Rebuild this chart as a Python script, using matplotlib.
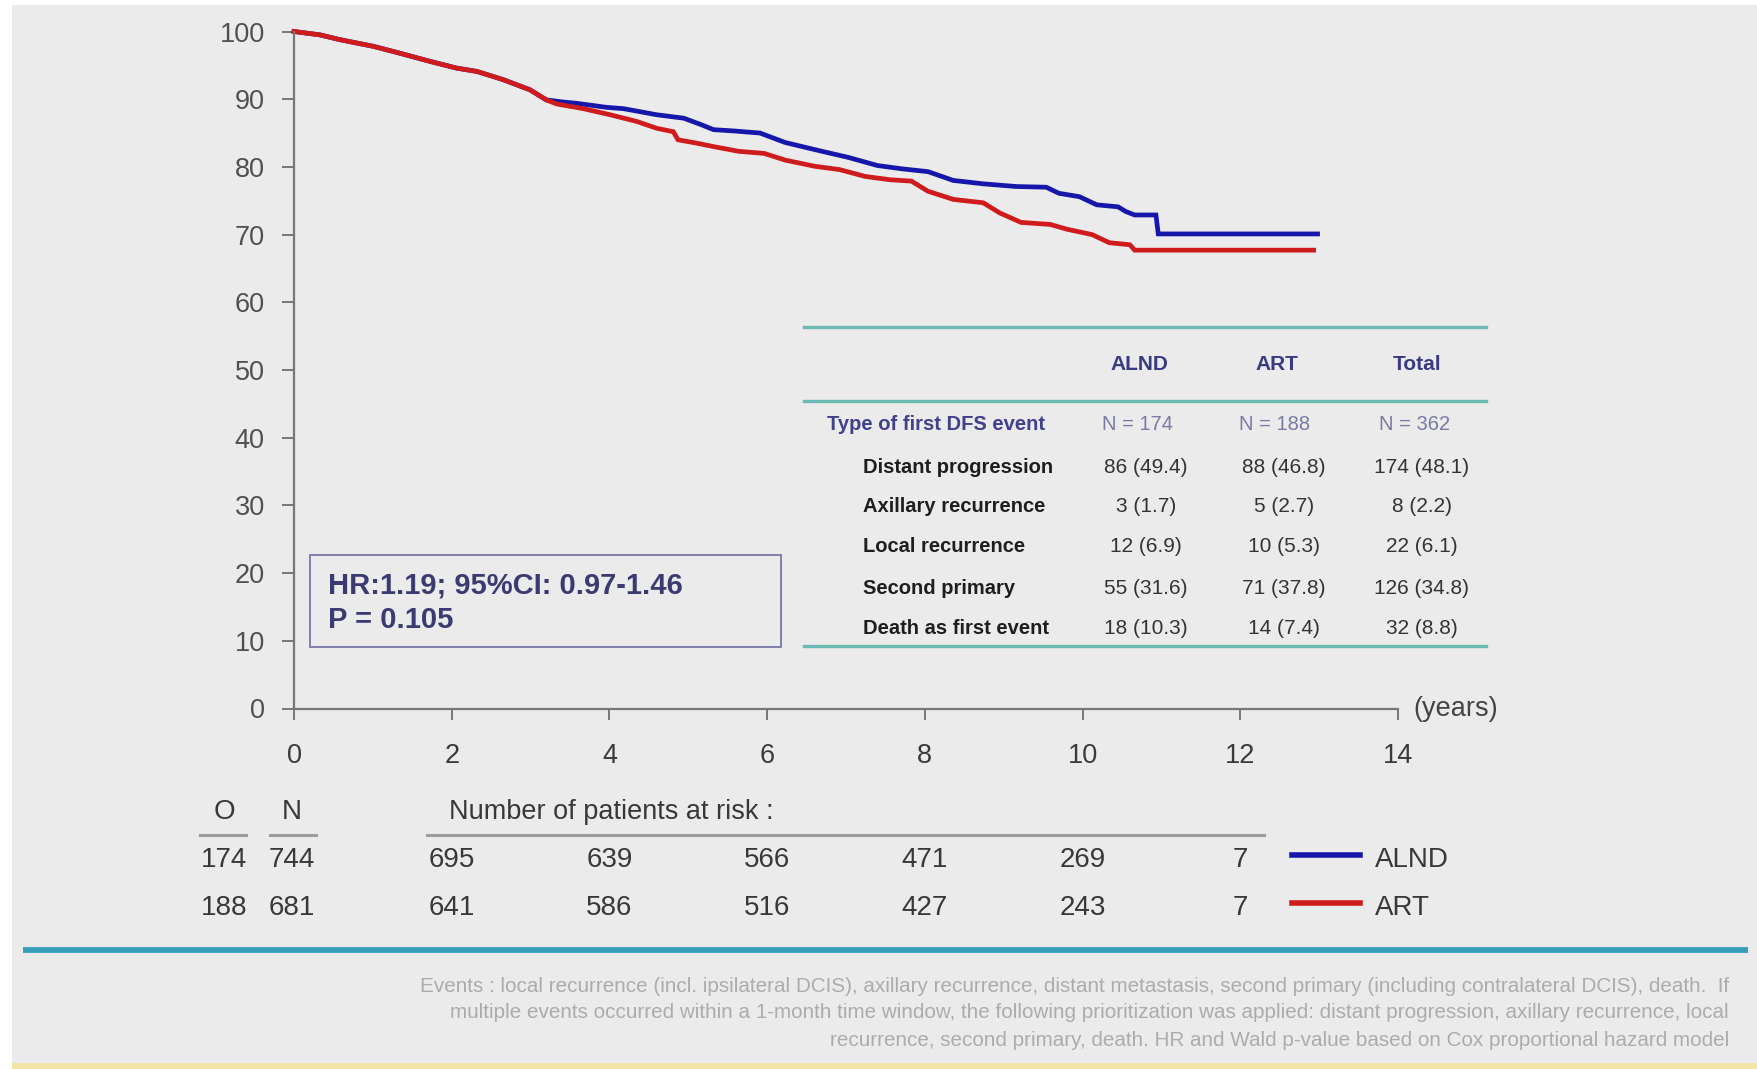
import matplotlib
matplotlib.use("Agg")
import matplotlib.pyplot as plt
import matplotlib.transforms as mtransforms
from matplotlib.lines import Line2D
from matplotlib.patches import Rectangle

# ---------------- data ----------------
alnd_t = [0, 0.33, 0.58, 1.01, 1.34, 1.72, 2.06, 2.32, 2.65, 2.99, 3.20, 3.40, 3.58, 3.96,
          4.18, 4.60, 4.94, 5.15, 5.32, 5.59, 5.91, 6.23, 6.66, 7.03, 7.40, 7.72, 8.04,
          8.36, 8.74, 9.16, 9.54, 9.70, 9.96, 10.18, 10.45, 10.55, 10.66, 10.93, 10.96, 12.98]
alnd_s = [100, 99.5, 98.8, 97.8, 96.8, 95.6, 94.6, 94.1, 92.9, 91.4, 89.9, 89.6, 89.4, 88.8,
          88.6, 87.7, 87.2, 86.3, 85.5, 85.3, 85.0, 83.6, 82.4, 81.4, 80.2, 79.7, 79.3,
          78.0, 77.5, 77.1, 77.0, 76.1, 75.6, 74.4, 74.1, 73.4, 72.9, 72.9, 70.1, 70.1]

art_t = [0, 0.33, 0.58, 1.01, 1.34, 1.72, 2.06, 2.32, 2.65, 2.99, 3.20, 3.33, 3.67, 4.01,
         4.35, 4.60, 4.81, 4.87, 5.11, 5.32, 5.64, 5.96, 6.23, 6.60, 6.92, 7.24, 7.56,
         7.83, 8.04, 8.36, 8.74, 8.95, 9.22, 9.59, 9.80, 10.12, 10.34, 10.60, 10.66, 12.93]
art_s = [100, 99.5, 98.8, 97.8, 96.8, 95.6, 94.6, 94.1, 92.9, 91.4, 89.9, 89.3, 88.6, 87.7,
         86.7, 85.7, 85.2, 84.0, 83.5, 83.0, 82.3, 82.0, 81.0, 80.1, 79.6, 78.6, 78.1,
         77.9, 76.4, 75.2, 74.7, 73.2, 71.8, 71.5, 70.8, 70.0, 68.8, 68.5, 67.7, 67.7]

groups = ["ALND", "ART"]
observed = [174, 188]
numbers = [744, 681]
risk_times = [2, 4, 6, 8, 10, 12]
risk_alnd = [695, 639, 566, 471, 269, 7]
risk_art = [641, 586, 516, 427, 243, 7]

table_cols = ["ALND", "ART", "Total"]
table_n = ["N = 174", "N = 188", "N = 362"]
event_types = ["Distant progression", "Axillary recurrence", "Local recurrence",
               "Second primary", "Death as first event"]
alnd_events = ["86 (49.4)", "3 (1.7)", "12 (6.9)", "55 (31.6)", "18 (10.3)"]
art_events = ["88 (46.8)", "5 (2.7)", "10 (5.3)", "71 (37.8)", "14 (7.4)"]
total_events = ["174 (48.1)", "8 (2.2)", "22 (6.1)", "126 (34.8)", "32 (8.8)"]

hr_text = ["HR:1.19; 95%CI: 0.97-1.46", "P = 0.105"]
footnote = [
    "Events : local recurrence (incl. ipsilateral DCIS), axillary recurrence, distant metastasis, second primary (including contralateral DCIS), death.  If",
    "multiple events occurred within a 1-month time window, the following prioritization was applied: distant progression, axillary recurrence, local",
    "recurrence, second primary, death. HR and Wald p-value based on Cox proportional hazard model",
]

# ---------------- style ----------------
W, H, DPI = 1757, 1069, 100
BG = "#ebebeb"
BLUE = "#1616aa"
RED = "#cf1b1b"
NAVY = "#3a3a82"
TEAL = "#6cbab4"
plt.rcParams["font.family"] = ["Liberation Sans", "DejaVu Sans"]
RISK_FS = 20


def fx(px):
    return px / W


def fy(py):
    return 1 - py / H


fig = plt.figure(figsize=(W / DPI, H / DPI), dpi=DPI, facecolor=BG)

# border strips
fig.patches.append(Rectangle((0, fy(5)), 1, 5 / H, transform=fig.transFigure,
                             facecolor="white", edgecolor="none", zorder=0))
fig.patches.append(Rectangle((0, 0), 12 / W, 1, transform=fig.transFigure,
                             facecolor="white", edgecolor="none", zorder=0))
fig.patches.append(Rectangle((12 / W, 0), 1, 6 / H, transform=fig.transFigure,
                             facecolor="#f2e3a6", edgecolor="none", zorder=0))

# ---------------- KM axes ----------------
ax = fig.add_axes([fx(294), fy(708.5), 1104 / W, 677 / H])
ax.patch.set_visible(False)
ax.plot(alnd_t, alnd_s, color=BLUE, lw=3.4, clip_on=False, solid_joinstyle="miter")
ax.plot(art_t, art_s, color=RED, lw=3.4, clip_on=False, solid_joinstyle="miter")
ax.set_xlim(0, 14)
ax.set_ylim(0, 100)
ax.set_xticks(range(0, 15, 2))
ax.set_yticks(range(0, 101, 10))
for s in ["top", "right"]:
    ax.spines[s].set_visible(False)
for s in ["left", "bottom"]:
    ax.spines[s].set_color("#777777")
    ax.spines[s].set_linewidth(1.6)
ax.tick_params(axis="y", direction="out", length=9, width=1.4, color="#777777",
               pad=12, labelsize=19.5, labelcolor="#505050")
ax.tick_params(axis="x", direction="out", length=8, width=1.4, color="#777777",
               pad=17, labelsize=19.5, labelcolor="#3a3a3a")
ax.text(14.2, 0, "(years)", va="center", ha="left", fontsize=19.5, color="#444444")

# HR box
fig.patches.append(Rectangle((fx(310), fy(647)), (781 - 310) / W, (647 - 555) / H,
                             transform=fig.transFigure, fill=False,
                             edgecolor="#8080ac", lw=1.4))
fig.text(fx(328), fy(585), hr_text[0], fontsize=21, fontweight="bold", color="#3b3b72",
         va="center", ha="left")
fig.text(fx(328), fy(620), hr_text[1], fontsize=21, fontweight="bold", color="#3b3b72",
         va="center", ha="left")

# ---------------- event table ----------------
for yy in [327, 401, 646]:
    fig.add_artist(Line2D([fx(804), fx(1486)], [fy(yy), fy(yy)], color=TEAL, lw=2.4,
                          transform=fig.transFigure))
col_x = [1139, 1277, 1417]
val_x = [1146, 1284, 1422]
for cx, name in zip(col_x, table_cols):
    fig.text(fx(cx), fy(365), name, fontsize=15, fontweight="bold", color=NAVY,
             ha="center", va="center")
fig.text(fx(827), fy(425), "Type of first DFS event", fontsize=14.5, fontweight="bold",
         color="#40408c", ha="left", va="center")
for cx, nn in zip(col_x, table_n):
    fig.text(fx(cx - 2), fy(425), nn, fontsize=14.5, color="#7a7aa2",
             ha="center", va="center")
row_y = [468, 507, 547, 588, 628]
for ry, lab, a, b, c in zip(row_y, event_types, alnd_events, art_events, total_events):
    fig.text(fx(863), fy(ry), lab, fontsize=14.5, fontweight="bold", color="#1e1e1e",
             ha="left", va="center")
    for vx, v in zip(val_x, [a, b, c]):
        fig.text(fx(vx), fy(ry), v, fontsize=15, color="#333333", ha="center",
                 va="center")

# ---------------- risk table ----------------
blend = mtransforms.blended_transform_factory(ax.transData, fig.transFigure)
RISK_C = "#383838"
UL = "#9c9c9c"
fig.text(fx(224), fy(812), "O", fontsize=RISK_FS, color=RISK_C, ha="center", va="center")
fig.text(fx(292), fy(812), "N", fontsize=RISK_FS, color=RISK_C, ha="center", va="center")
ax.text(1.97, fy(812), "Number of patients at risk :", fontsize=RISK_FS - 0.5, color=RISK_C,
        ha="left", va="center", transform=blend)
for x0, x1 in [(200, 246), (270, 316)]:
    fig.add_artist(Line2D([fx(x0), fx(x1)], [fy(835), fy(835)], color=UL, lw=2.2,
                          transform=fig.transFigure))
fig.add_artist(Line2D([fx(427), fx(1264)], [fy(835), fy(835)], color=UL, lw=2.2,
                      transform=fig.transFigure))

row_ys = [860, 908]
line_cols = [BLUE, RED]
for gi, (g, o, n, risks) in enumerate(zip(groups, observed, numbers, [risk_alnd, risk_art])):
    yy = fy(row_ys[gi])
    fig.text(fx(224), yy, str(o), fontsize=RISK_FS, color=RISK_C, ha="center", va="center")
    fig.text(fx(292), yy, str(n), fontsize=RISK_FS, color=RISK_C, ha="center", va="center")
    for t, r in zip(risk_times, risks):
        ax.text(t, yy, str(r), fontsize=RISK_FS, color=RISK_C, ha="center", va="center",
                transform=blend)
    fig.add_artist(Line2D([fx(1292), fx(1360)], [fy(row_ys[gi] - 5)] * 2, color=line_cols[gi],
                          lw=4, transform=fig.transFigure))
    fig.text(fx(1375), yy, g, fontsize=RISK_FS, color=RISK_C, ha="left", va="center")

# separator
fig.add_artist(Line2D([fx(23), fx(1748)], [fy(950), fy(950)], color="#36a0bb", lw=4.2,
                      transform=fig.transFigure, solid_capstyle="butt"))

# footnote
for i, line in enumerate(footnote):
    fig.text(fx(1729), fy(986 + 27 * i), line, fontsize=14.9, color="#acacac",
             ha="right", va="center")

fig.savefig("out.png", dpi=DPI, facecolor=BG)
